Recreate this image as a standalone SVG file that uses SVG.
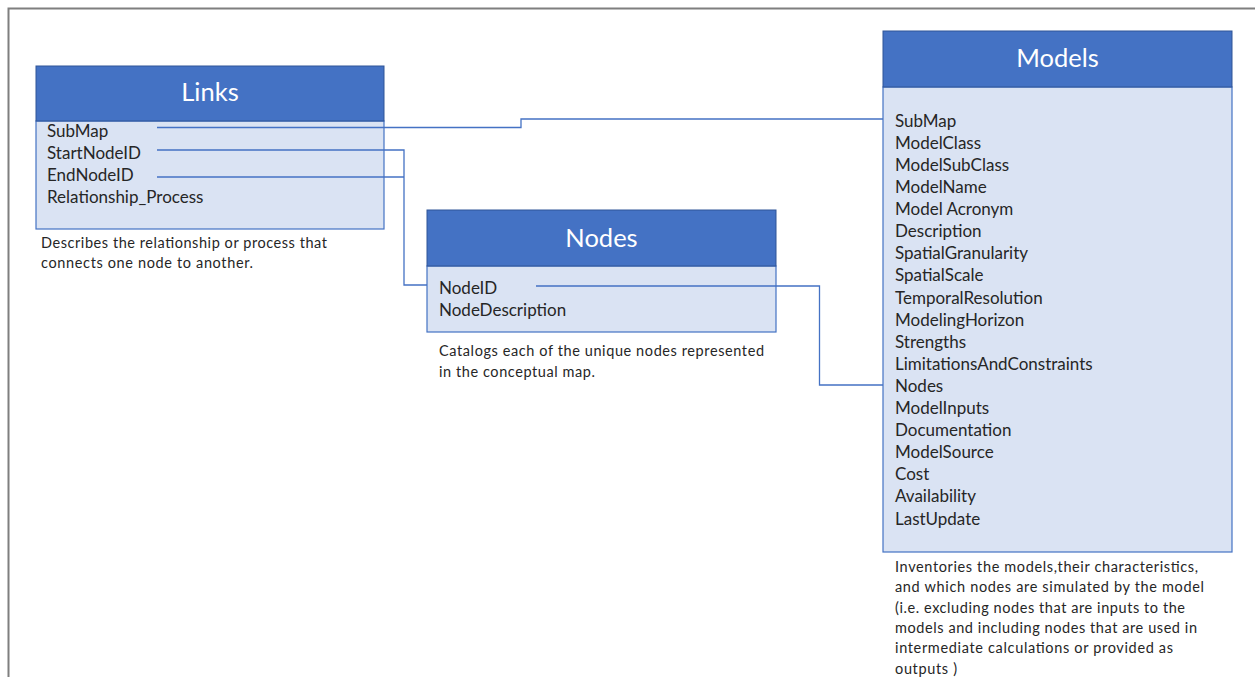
<svg xmlns="http://www.w3.org/2000/svg" width="1255" height="677" viewBox="0 0 1255 677">
<style>
.hdr{fill:#4472C4;stroke:#2F5597;stroke-width:1}
.body{fill:#DAE3F3;stroke:#4472C4;stroke-width:1.2}
.title{font-family:Lato,"Liberation Sans",sans-serif;font-size:25.5px;fill:#FFFFFF;text-anchor:middle}
.fld{font-family:Lato,"Liberation Sans",sans-serif;font-size:17px;fill:#262626}
.desc{font-family:Lato,"Liberation Sans",sans-serif;font-size:14.5px;fill:#262626}
.conn{fill:none;stroke:#4472C4;stroke-width:1.3}
</style>
<rect x="0" y="0" width="1255" height="677" fill="#FFFFFF"/>
<path d="M8.5,677 V8.5 H1255" fill="none" stroke="#7F7F7F" stroke-width="2"/>

<g id="links">
<rect class="body" x="36" y="121" width="348" height="108"/>
<rect class="hdr" x="36" y="66" width="348" height="55"/>
<text class="title" x="210" y="101">Links</text>
<text class="fld" x="47" y="137">SubMap</text>
<text class="fld" x="47" y="159">StartNodeID</text>
<text class="fld" x="47" y="181">EndNodeID</text>
<text class="fld" x="47" y="203">Relationship_Process</text>
<text class="desc" x="41" y="248" textLength="286">Describes the relationship or process that</text>
<text class="desc" x="41" y="268" textLength="212">connects one node to another.</text>
</g>

<g id="nodes">
<rect class="body" x="427" y="266" width="349" height="66"/>
<rect class="hdr" x="427" y="210" width="349" height="56"/>
<text class="title" x="601.5" y="247">Nodes</text>
<text class="fld" x="439" y="294">NodeID</text>
<text class="fld" x="439" y="316">NodeDescription</text>
<text class="desc" x="439" y="356" textLength="325">Catalogs each of the unique nodes represented</text>
<text class="desc" x="439" y="377" textLength="156">in the conceptual map.</text>
</g>

<g id="models">
<rect class="body" x="883" y="87" width="349" height="465"/>
<rect class="hdr" x="883" y="31" width="349" height="56"/>
<text class="title" x="1057.5" y="67">Models</text>
<text class="fld" x="895" y="126.7">SubMap</text>
<text class="fld" x="895" y="148.8">ModelClass</text>
<text class="fld" x="895" y="170.9">ModelSubClass</text>
<text class="fld" x="895" y="193">ModelName</text>
<text class="fld" x="895" y="215.1">Model  Acronym</text>
<text class="fld" x="895" y="237.2">Description</text>
<text class="fld" x="895" y="259.3">SpatialGranularity</text>
<text class="fld" x="895" y="281.4">SpatialScale</text>
<text class="fld" x="895" y="303.5">TemporalResolution</text>
<text class="fld" x="895" y="325.6">ModelingHorizon</text>
<text class="fld" x="895" y="347.7">Strengths</text>
<text class="fld" x="895" y="369.8">LimitationsAndConstraints</text>
<text class="fld" x="895" y="391.9">Nodes</text>
<text class="fld" x="895" y="414">ModelInputs</text>
<text class="fld" x="895" y="436.1">Documentation</text>
<text class="fld" x="895" y="458.2">ModelSource</text>
<text class="fld" x="895" y="480.3">Cost</text>
<text class="fld" x="895" y="502.4">Availability</text>
<text class="fld" x="895" y="524.5">LastUpdate</text>
<text class="desc" x="895" y="572" textLength="303">Inventories the models,their characteristics,</text>
<text class="desc" x="895" y="592.3" textLength="309">and which nodes are simulated by the model</text>
<text class="desc" x="895" y="612.6" textLength="290">(i.e. excluding nodes that are inputs to the</text>
<text class="desc" x="895" y="632.9" textLength="302">models and including nodes that are used in</text>
<text class="desc" x="895" y="653.2" textLength="278">intermediate calculations or provided as</text>
<text class="desc" x="895" y="673.5" textLength="62">outputs )</text>
</g>

<g id="connectors">
<path class="conn" d="M157,127.5 H521 V119 H883"/>
<path class="conn" d="M157,150 H404 V285 H427"/>
<path class="conn" d="M157,177 H404"/>
<path class="conn" d="M536,286 H819.5 V385 H883"/>
</g>
</svg>
